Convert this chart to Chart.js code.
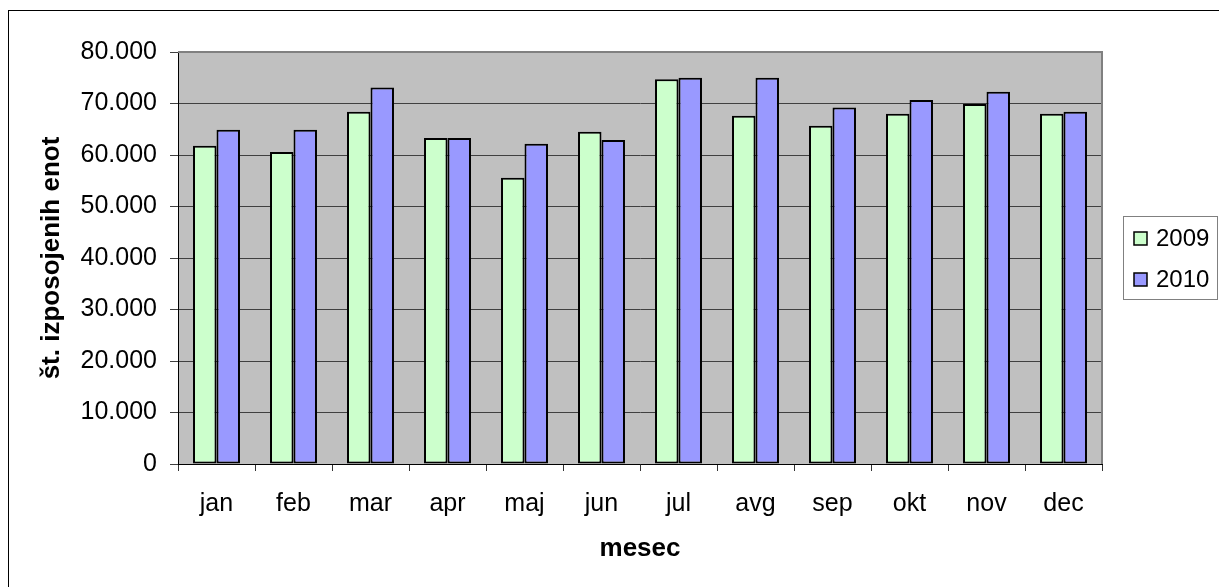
<!DOCTYPE html>
<html lang="sl">
<head>
    <meta charset="UTF-8">
    <title>Izposojene enote po mesecih</title>
    <script src="https://cdn.jsdelivr.net/npm/chart.js"></script>
    <style>
        html, body { margin: 0; padding: 0; background: #fff; }
        #wrap { width: 1219px; height: 587px; }
    </style>
</head>
<body>
<div id="wrap"><canvas id="myChart"></canvas></div>
<script>
    // podatki
    const months = ['jan', 'feb', 'mar', 'apr', 'maj', 'jun', 'jul', 'avg', 'sep', 'okt', 'nov', 'dec'];
    const years = ['2009', '2010'];
    const units2009 = [61800, 60600, 68400, 63300, 55600, 64500, 74700, 67600, 65700, 68000, 69900, 68000];
    const units2010 = [64900, 64900, 73100, 63300, 62200, 62900, 75000, 75000, 69200, 70700, 72300, 68400];
    const colors = ['#CCFFCC', '#9999FF'];

    const fontName = "'Liberation Sans', Arial, sans-serif";

    function fmt(v) {
        return String(v).replace(/\B(?=(\d{3})+(?!\d))/g, '.');
    }

    // ozadje, okvir in legenda
    const decor = {
        id: 'decor',
        beforeDraw(chart) {
            const {ctx, chartArea: a} = chart;
            ctx.save();
            ctx.fillStyle = '#C0C0C0';
            ctx.fillRect(a.left, a.top, a.right - a.left, a.bottom - a.top);
            ctx.restore();
        },
        afterDraw(chart) {
            const {ctx, chartArea: a} = chart;
            ctx.save();
            // zgornji in desni rob
            ctx.strokeStyle = '#808080';
            ctx.lineWidth = 2;
            ctx.beginPath();
            ctx.moveTo(a.left, a.top);
            ctx.lineTo(a.right, a.top);
            ctx.lineTo(a.right, a.bottom);
            ctx.stroke();
            // zunanji okvir
            ctx.strokeStyle = '#000';
            ctx.lineWidth = 1;
            ctx.strokeRect(8.5, 10.5, 1400, 800);
            // legenda
            ctx.fillStyle = '#fff';
            ctx.fillRect(1123, 216, 95, 83);
            ctx.strokeStyle = '#808080';
            ctx.strokeRect(1123.5, 216.5, 94, 83);
            ctx.font = '24px ' + fontName;
            ctx.textBaseline = 'middle';
            chart.data.datasets.forEach((ds, i) => {
                const y = 239 + i * 41;
                ctx.fillStyle = ds.backgroundColor;
                ctx.fillRect(1134, y - 7, 13, 13);
                ctx.strokeStyle = '#000';
                ctx.lineWidth = 1.5;
                ctx.strokeRect(1134, y - 7, 13, 13);
                ctx.fillStyle = '#000';
                ctx.fillText(ds.label, 1156, y);
            });
            ctx.restore();
        }
    };

    const ctx = document.getElementById('myChart');
    new Chart(ctx, {
        type: 'bar',
        data: {
            labels: months,
            datasets: [
                { label: years[0], data: units2009, backgroundColor: colors[0] },
                { label: years[1], data: units2010, backgroundColor: colors[1] }
            ]
        },
        options: {
            responsive: true,
            maintainAspectRatio: false,
            animation: false,
            layout: { padding: { left: 0, top: 52, right: 117, bottom: 0 } },
            datasets: {
                bar: {
                    borderColor: '#000',
                    borderWidth: 2,
                    borderSkipped: false,
                    categoryPercentage: 0.61,
                    barPercentage: 1
                }
            },
            plugins: {
                legend: { display: false },
                tooltip: { enabled: false }
            },
            scales: {
                x: {
                    afterFit(s) { s.height = 123; },
                    grid: { display: true, drawOnChartArea: false, drawTicks: true, tickLength: 7, color: '#333', offset: true },
                    border: { color: '#000', width: 1 },
                    ticks: { color: '#000', font: { family: fontName, size: 25 }, padding: 18 },
                    title: {
                        display: true, text: 'mesec', color: '#000',
                        font: { family: fontName, size: 26, weight: 'bold' },
                        padding: { top: 0, bottom: 23 }
                    }
                },
                y: {
                    min: 0, max: 80000,
                    afterFit(s) { s.width = 178; },
                    grid: { color: '#404040', lineWidth: 1, tickLength: 8 },
                    border: { color: '#000', width: 1 },
                    ticks: {
                        stepSize: 10000, color: '#000', padding: 13,
                        font: { family: fontName, size: 25 },
                        callback: v => fmt(v)
                    },
                    title: {
                        display: true, text: 'št. izposojenih enot', color: '#000',
                        font: { family: fontName, size: 26, weight: 'bold' },
                        padding: { top: 36, bottom: 0 }
                    }
                }
            }
        },
        plugins: [decor]
    });
</script>
</body>
</html>
